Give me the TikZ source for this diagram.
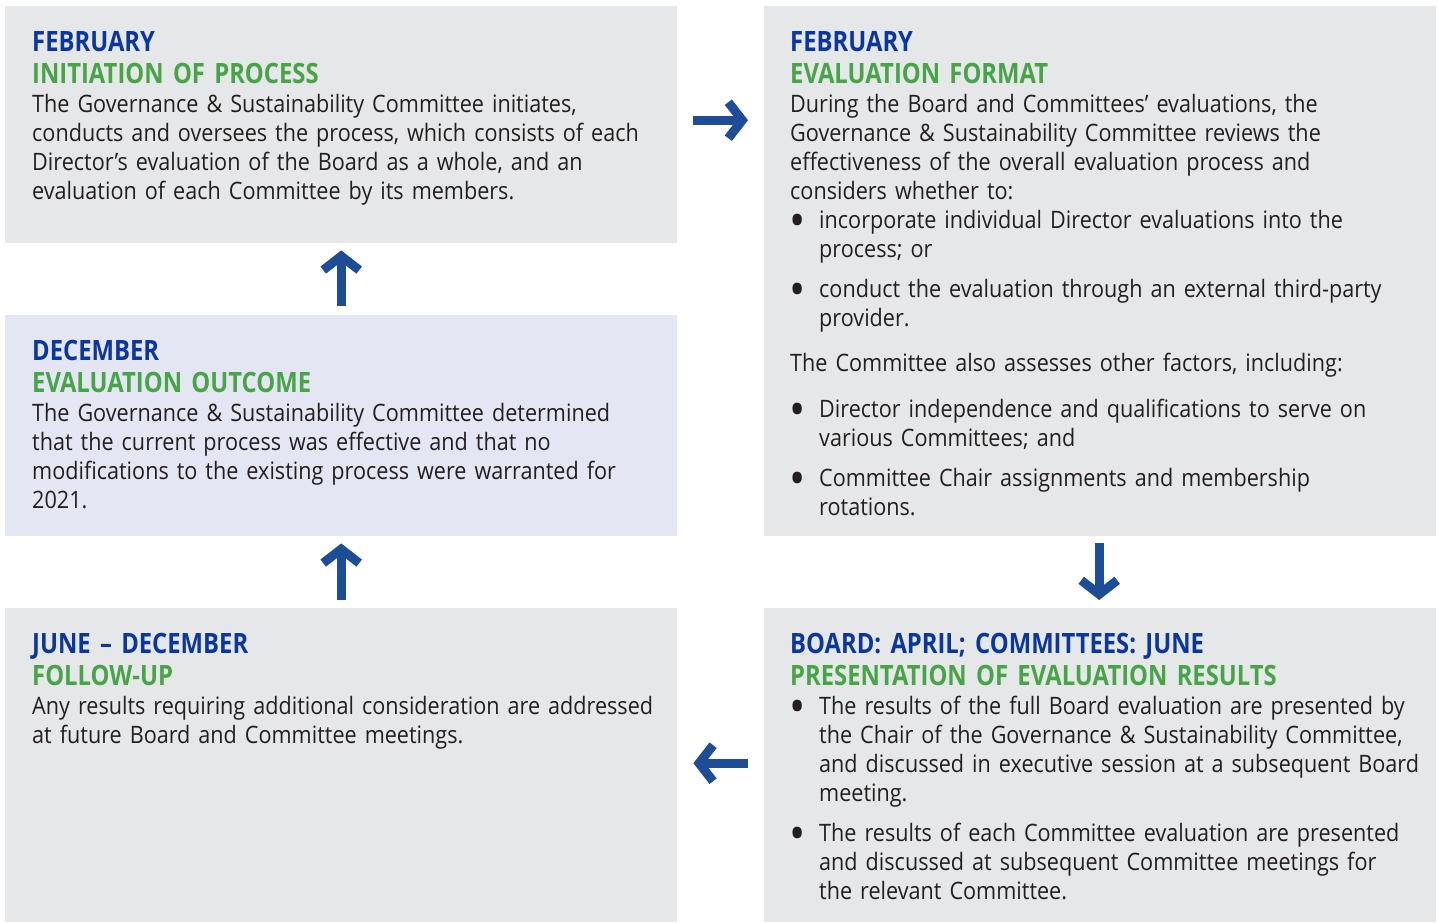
\documentclass[tikz,border=0pt]{standalone}
\usepackage{fontspec}
\usepackage{graphicx}
\setmainfont{Open Sans}[FakeStretch=0.9]
\newfontfamily\headfont{Open Sans}[FakeStretch=0.85]
\usetikzlibrary{arrows.meta,calc,positioning}

\definecolor{panelgray}{HTML}{E6E7E8}
\definecolor{panellilac}{HTML}{E4E6F3}
\definecolor{monthblue}{HTML}{0A36A0}
\definecolor{stepgreen}{HTML}{47A447}
\definecolor{arrowblue}{HTML}{1C4D96}
\definecolor{inktext}{HTML}{231F20}

% bullet line with hanging indent
\newcommand{\bulletline}[1]{\hangindent=29pt\hangafter=1\noindent\makebox[29pt][l]{\hspace{-1pt}\raisebox{-9.5pt}[0pt][0pt]{\scalebox{2}{\textbullet}}}#1\par}

\begin{document}
\begin{tikzpicture}[x=1pt, y=-1pt,
    panel/.style={fill=panelgray, anchor=north west, inner sep=0pt, minimum width=672pt},
    headtext/.style={anchor=base west, inner sep=0pt, text width=640pt, align=left,
        font=\headfont\bfseries\fontsize{28}{32}\selectfont},
    bodytext/.style={anchor=base west, inner sep=0pt, text width=640pt, align=left,
        text=inktext, font=\fontsize{24}{29}\selectfont},
    flowarrow/.style={draw=arrowblue, line width=9pt, -{Straight Barb[length=14pt,width=36pt]}}]

    \fill[white] (0,0) rectangle (1438,922);
    \useasboundingbox (0,0) rectangle (1438,922);

    % panels
    \node[panel, minimum height=237pt] (initbox) at (5,6) {};
    \node[panel, minimum height=530pt] (formatbox) at (764,6) {};
    \node[panel, minimum height=221pt, fill=panellilac] (outcomebox) at (5,315) {};
    \node[panel, minimum height=314pt] (followbox) at (5,608) {};
    \node[panel, minimum height=314pt] (resultsbox) at (764,608) {};

    % February: initiation
    \node[headtext] (inithead) at ([xshift=27pt,yshift=-45pt]initbox.north west)
        {\color{monthblue}FEBRUARY\\\color{stepgreen}INITIATION OF PROCESS};
    \node[bodytext] (initbody) at ([yshift=-61pt]inithead.base west)
        {The Governance \& Sustainability Committee initiates,\\
         conducts and oversees the process, which consists of each\\
         Director’s evaluation of the Board as a whole, and an\\
         evaluation of each Committee by its members.};

    % February: format
    \node[headtext] (formathead) at ([xshift=26pt,yshift=-45pt]formatbox.north west)
        {\color{monthblue}FEBRUARY\\\color{stepgreen}EVALUATION FORMAT};
    \node[bodytext] (formatbody) at ([yshift=-61pt]formathead.base west)
        {During the Board and Committees’ evaluations, the\\
         Governance \& Sustainability Committee reviews the\\
         effectiveness of the overall evaluation process and\\
         considers whether to:\par
         \bulletline{incorporate individual Director evaluations into the\newline process; or}
         \vspace{11pt}
         \bulletline{conduct the evaluation through an external third-party\newline provider.}
         \vspace{16pt}
         \noindent The Committee also assesses other factors, including:\par
         \vspace{17pt}
         \bulletline{Director independence and qualifications to serve on\newline various Committees; and}
         \vspace{11pt}
         \bulletline{Committee Chair assignments and membership\newline rotations.}};

    % December: outcome
    \node[headtext] (outcomehead) at ([xshift=27pt,yshift=-45pt]outcomebox.north west)
        {\color{monthblue}DECEMBER\\\color{stepgreen}EVALUATION OUTCOME};
    \node[bodytext] (outcomebody) at ([yshift=-61pt]outcomehead.base west)
        {The Governance \& Sustainability Committee determined\\
         that the current process was effective and that no\\
         modifications to the existing process were warranted for\\
         2021.};

    % June - December: follow-up
    \node[headtext] (followhead) at ([xshift=27pt,yshift=-45pt]followbox.north west)
        {\color{monthblue}JUNE – DECEMBER\\\color{stepgreen}FOLLOW-UP};
    \node[bodytext] (followbody) at ([yshift=-61pt]followhead.base west)
        {Any results requiring additional consideration are addressed\\
         at future Board and Committee meetings.};

    % April / June: results
    \node[headtext] (resultshead) at ([xshift=26pt,yshift=-45pt]resultsbox.north west)
        {\color{monthblue}BOARD: APRIL; COMMITTEES: JUNE\\\color{stepgreen}PRESENTATION OF EVALUATION RESULTS};
    \node[bodytext] (resultsbody) at ([yshift=-61pt]resultshead.base west)
        {\bulletline{The results of the full Board evaluation are presented by\newline
         the Chair of the Governance \& Sustainability Committee,\newline
         and discussed in executive session at a subsequent Board\newline
         meeting.}
         \vspace{11pt}
         \bulletline{The results of each Committee evaluation are presented\newline
         and discussed at subsequent Committee meetings for\newline
         the relevant Committee.}};

    % flow arrows
    \draw[flowarrow] ($(initbox.east)+(16,-4.5)$) -- ($(initbox.east -| formatbox.west)+(-16,-4.5)$);
    \draw[flowarrow] ($(formatbox.south)+(-1,7)$) -- ($(resultsbox.north)+(-1,-8)$);
    \draw[flowarrow] ($(resultsbox.west)+(-16,-2)$) -- ($(resultsbox.west -| followbox.east)+(16,-2)$);
    \draw[flowarrow] ($(followbox.north)+(0,-8)$) -- ($(outcomebox.south)+(0,7)$);
    \draw[flowarrow] ($(outcomebox.north)+(0,-9)$) -- ($(initbox.south)+(0,7)$);
\end{tikzpicture}
\end{document}
